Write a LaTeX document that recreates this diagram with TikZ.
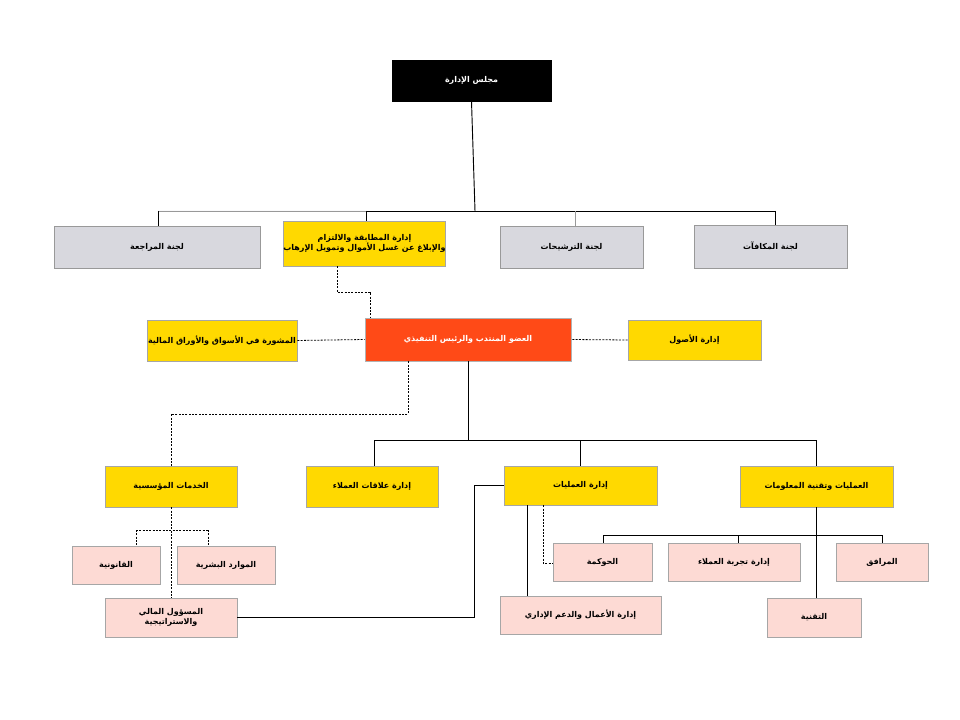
\documentclass[tikz,border=0pt]{standalone}
\usepackage{fontspec}
\newfontfamily\arfont[Script=Arabic]{DejaVu Sans}
\TeXXeTstate=1
\newcommand\AR[1]{\beginR#1\endR}
\begin{document}
\begin{tikzpicture}[x=0.75pt,y=-0.75pt,
  box/.style={draw=#1,line width=0.6pt,inner sep=0pt,align=center,font=\arfont\bfseries\fontsize{6}{8}\selectfont},
  gray/.style={box=gray!80,fill=gray!25!blue!3!white,fill={rgb,255:red,216;green,216;blue,222}},
  yel/.style={box=gray!70,fill={rgb,255:red,255;green,217;blue,0}},
  pink/.style={box=gray!70,fill={rgb,255:red,253;green,218;blue,212}},
  sol/.style={line width=0.7pt},
  dsh/.style={line width=0.6pt,dash pattern=on 1.5pt off 1pt}]
\useasboundingbox (0,0) rectangle (960,720);
\newcommand\bx[6]{\node[#1,minimum width=(#4-#2)*0.75pt,minimum height=(#5-#3)*0.75pt] (#6) at ({(#2+#4)/2},{(#3+#5)/2})}
\bx{box=black,fill=black,text=white}{392}{60}{551}{101}{board} {\AR{مجلس الإدارة}};
\bx{gray}{54}{226}{260}{268}{audit} {\AR{لجنة المراجعة}};
\bx{yel}{297}{221}{432}{266}{comp} {\AR{إدارة المطابقة والالتزام}\\\AR{والإبلاغ عن غسل الأموال وتمويل الإرهاب}};
\bx{gray}{500}{226}{643}{268}{nom} {\AR{لجنة الترشيحات}};
\bx{gray}{694}{225}{847}{268}{rew} {\AR{لجنة المكافآت}};
\bx{box=gray!60,fill={rgb,255:red,255;green,74;blue,23},text=white}{365}{318}{571}{361}{ceo} {\AR{العضو المنتدب والرئيس التنفيذي}};
\bx{yel}{147}{320}{297}{361}{adv} {\AR{المشورة في الأسواق والأوراق المالية}};
\bx{yel}{628}{320}{761}{360}{assets} {\AR{إدارة الأصول}};
\bx{yel}{105}{466}{237}{507}{corp} {\AR{الخدمات المؤسسية}};
\bx{yel}{306}{466}{438}{507}{crm} {\AR{إدارة علاقات العملاء}};
\bx{yel}{504}{466}{657}{505}{ops} {\AR{إدارة العمليات}};
\bx{yel}{740}{466}{893}{507}{it} {\AR{العمليات وتقنية المعلومات}};
\bx{pink}{72}{546}{160}{584}{legal} {\AR{القانونية}};
\bx{pink}{177}{546}{275}{584}{hr} {\AR{الموارد البشرية}};
\bx{pink}{105}{598}{237}{637}{cfo} {\AR{المسؤول المالي}\\\AR{والاستراتيجية}};
\bx{pink}{553}{543}{652}{581}{gov} {\AR{الحوكمة}};
\bx{pink}{668}{543}{800}{581}{cx} {\AR{إدارة تجربة العملاء}};
\bx{pink}{836}{543}{928}{581}{fac} {\AR{المرافق}};
\bx{pink}{500}{596}{661}{634}{bus} {\AR{إدارة الأعمال والدعم الإداري}};
\bx{pink}{767}{598}{861}{637}{tech} {\AR{التقنية}};
% board to committees
\coordinate (t1) at (475,211);
\draw[sol] (board.south) -- (t1);
\draw[sol,gray] (158,211) -- (366,211);
\draw[sol] (366,211) -- (775,211);
\draw[sol] (158,211) -- (audit.north-|158,0);
\draw[sol] (366,211) -- (comp.north-|366,0);
\draw[sol,gray] (575,211) -- (nom.north-|575,0);
\draw[sol] (775,211) -- (rew.north-|775,0);
% dashed links
\draw[dsh] (comp.south-|337,0) -- (337,292) -- (370,292) -- (ceo.north-|370,0);
\draw[dsh] (adv.east) -- (ceo.west);
\draw[dsh] (assets.west) -- (ceo.east);
\draw[dsh] (ceo.south-|408,0) -- (408,414) -- (171,414) -- (corp.north-|171,0);
\draw[dsh] (corp.south-|171,0) -- (cfo.north-|171,0);
\draw[dsh] (136,530) -- (208,530);
\draw[dsh] (136,530) -- (legal.north-|136,0);
\draw[dsh] (208,530) -- (hr.north-|208,0);
% CEO solid
\draw[sol] (ceo.south-|468,0) -- (468,440);
\draw[sol] (374,440) -- (816,440);
\draw[sol] (374,440) -- (crm.north-|374,0);
\draw[sol] (580,440) -- (ops.north-|580,0);
\draw[sol] (816,440) -- (it.north-|816,0);
% operations
\draw[sol] (ops.west|-0,485) -- (474,485) -- (474,617) -- (cfo.east|-0,617);
\draw[sol] (ops.south-|527,0) -- (bus.north-|527,0);
\draw[dsh] (ops.south-|543,0) -- (543,563) -- (gov.west|-0,563);
% IT
\draw[sol] (it.south-|816,0) -- (tech.north-|816,0);
\draw[sol] (603,535) -- (882,535);
\draw[sol] (603,535) -- (gov.north-|603,0);
\draw[sol] (738,535) -- (cx.north-|738,0);
\draw[sol] (882,535) -- (fac.north-|882,0);
\end{tikzpicture}
\end{document}
